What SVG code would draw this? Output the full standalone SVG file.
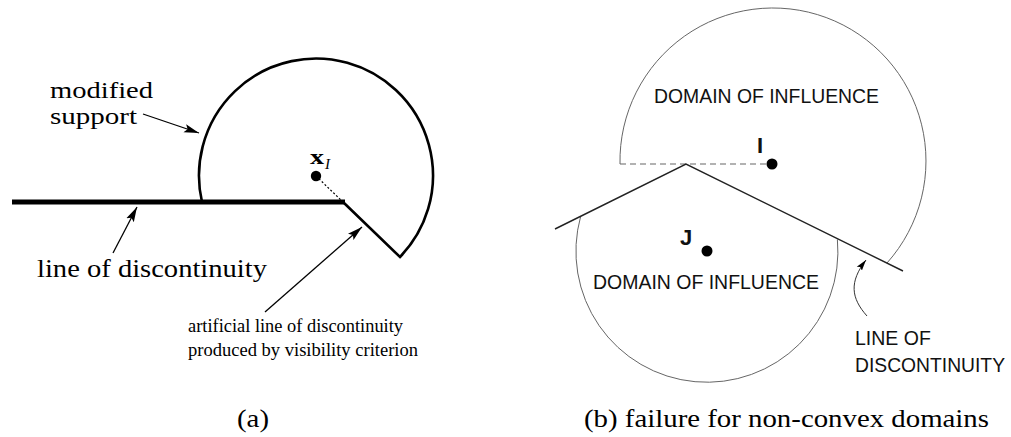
<svg xmlns="http://www.w3.org/2000/svg" width="1011" height="437" viewBox="0 0 1011 437">
<style>
.serif{font-family:"Liberation Serif","Times New Roman",serif;fill:#000}
.sans{font-family:"Liberation Sans",Arial,sans-serif;fill:#111}
.thinarrow{fill:none;stroke:#000;stroke-width:1.3}
.disc{fill:none;stroke:#222;stroke-width:1.4}
.dom{fill:none;stroke:#666;stroke-width:1}
</style>
<defs>
<marker id="ah" markerWidth="16" markerHeight="10" refX="15" refY="5" orient="auto" markerUnits="userSpaceOnUse" viewBox="0 0 16 10">
<path d="M0,0.8 L15,5 L0,9.2 L3,5 Z" fill="#000"/>
</marker>
<marker id="ahs" markerWidth="12" markerHeight="8" refX="11" refY="4" orient="auto" markerUnits="userSpaceOnUse" viewBox="0 0 12 8">
<path d="M0,0.8 L11,4 L0,7.2 L2,4 Z" fill="#000"/>
</marker>
</defs>
<rect width="1011" height="437" fill="#fff"/>

<!-- (a) -->
<g id="support">
<path d="M202,202 A117,117 0 1 1 400,257 L343,202" fill="none" stroke="#000" stroke-width="2.6" stroke-linejoin="miter"/>
</g>
<g id="discontinuity-a">
<line x1="12" y1="202" x2="345" y2="202" stroke="#000" stroke-width="5"/>
</g>
<g id="node-xI">
<circle cx="316" cy="176" r="5.2" fill="#000"/>
<text class="serif" x="310" y="164" font-size="22" font-weight="bold" textLength="14" lengthAdjust="spacingAndGlyphs">x</text>
<text class="serif" x="325" y="169" font-size="15" font-style="italic">I</text>
</g>
<g id="connectors">
<line x1="316" y1="176" x2="343" y2="202" stroke="#000" stroke-width="1.2" stroke-dasharray="2,2"/>
<line class="thinarrow" x1="143" y1="114" x2="199" y2="133" marker-end="url(#ah)"/>
<line class="thinarrow" x1="113" y1="253" x2="137" y2="207" marker-end="url(#ah)"/>
<line class="thinarrow" x1="265" y1="312" x2="362" y2="227" marker-end="url(#ah)"/>
<line x1="620" y1="164" x2="772" y2="164" stroke="#666" stroke-width="1.1" stroke-dasharray="6,4"/>
<path d="M867,316 C851,298 849,282 866,260" fill="none" stroke="#333" stroke-width="1" marker-end="url(#ahs)"/>
</g>
<g id="labels-a">
<text class="serif" x="50" y="98" font-size="24" textLength="103" lengthAdjust="spacingAndGlyphs">modified</text>
<text class="serif" x="50" y="124" font-size="24" textLength="87" lengthAdjust="spacingAndGlyphs">support</text>
<text class="serif" x="37" y="277" font-size="25" textLength="230" lengthAdjust="spacingAndGlyphs">line of discontinuity</text>
<text class="serif" x="188" y="332" font-size="18" textLength="215" lengthAdjust="spacingAndGlyphs">artificial line of discontinuity</text>
<text class="serif" x="188" y="356" font-size="18" textLength="230" lengthAdjust="spacingAndGlyphs">produced by visibility criterion</text>
</g>

<!-- (b) -->
<g id="domain-I">
<path class="dom" d="M620,164 A153,153 0 1 1 887,263"/>
<circle cx="772" cy="164" r="5.5" fill="#000"/>
<text class="sans" x="757" y="153" font-size="22" font-weight="bold">I</text>
<text class="sans" x="654" y="103" font-size="19.5" textLength="225" lengthAdjust="spacingAndGlyphs">DOMAIN OF INFLUENCE</text>
</g>
<g id="domain-J">
<path class="dom" d="M580.7,216.2 A131,131 0 1 0 837.4,239.5"/>
<circle cx="707" cy="251" r="5.5" fill="#000"/>
<text class="sans" x="680" y="245" font-size="22" font-weight="bold">J</text>
<text class="sans" x="593" y="289" font-size="19.5" textLength="226" lengthAdjust="spacingAndGlyphs">DOMAIN OF INFLUENCE</text>
</g>
<g id="discontinuity-b">
<polyline class="disc" points="555,229 686,164 903,271"/>
<text class="sans" x="855" y="345" font-size="19.5">LINE OF</text>
<text class="sans" x="855" y="372" font-size="19.5" textLength="150" lengthAdjust="spacingAndGlyphs">DISCONTINUITY</text>
</g>

<g id="captions">
<text class="serif" x="253" y="427" font-size="26" text-anchor="middle" textLength="32" lengthAdjust="spacingAndGlyphs">(a)</text>
<text class="serif" x="584" y="427" font-size="26" textLength="405" lengthAdjust="spacingAndGlyphs">(b) failure for non-convex domains</text>
</g>
</svg>
